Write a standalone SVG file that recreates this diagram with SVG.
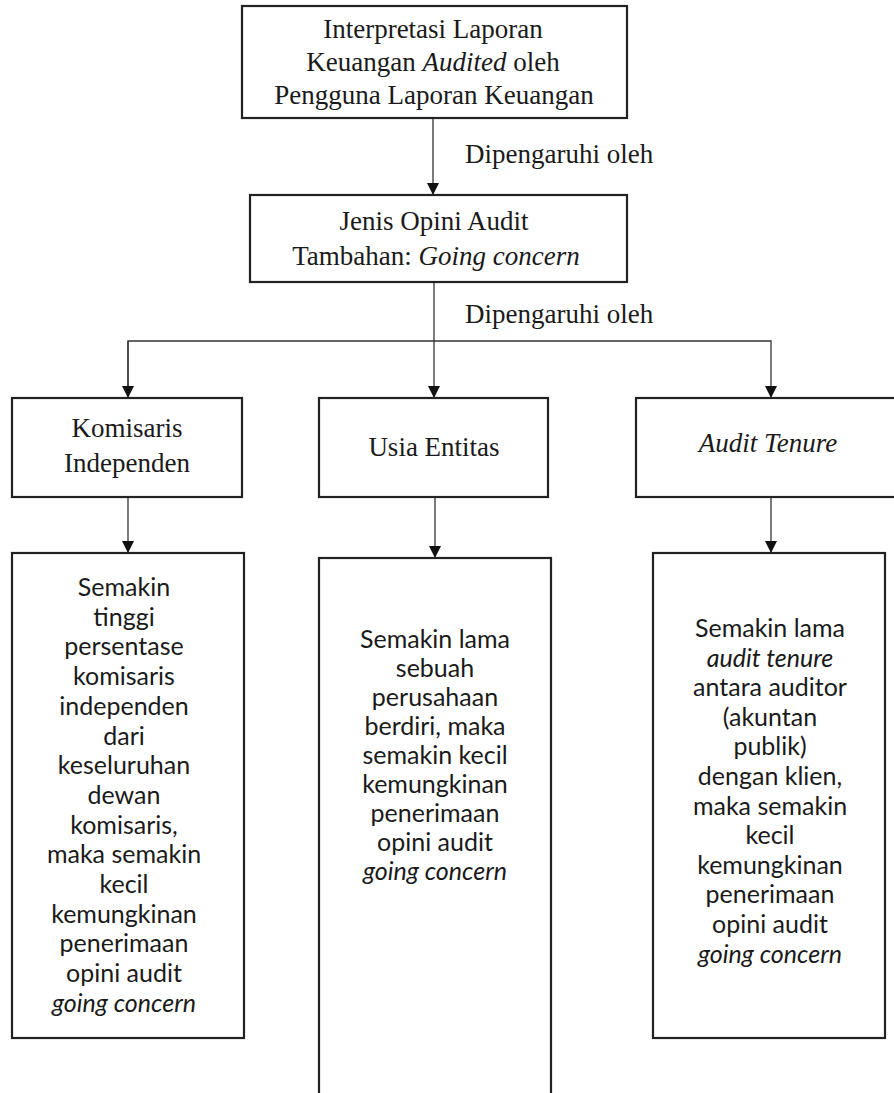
<svg xmlns="http://www.w3.org/2000/svg" width="894" height="1093" viewBox="0 0 894 1093">
<defs>
<style>
.box{fill:#fff;stroke:#222;stroke-width:2.2}
.con{fill:none;stroke:#333;stroke-width:1.3}
.t{font-family:"Liberation Serif","Times New Roman",serif;font-size:27px;fill:#1a1a1a;text-anchor:middle}
.lbl{font-family:"Liberation Serif","Times New Roman",serif;font-size:27px;fill:#1a1a1a}
.s{font-family:Lato,"Open Sans",sans-serif;font-size:25px;fill:#1a1a1a;text-anchor:middle}
.i{font-style:italic}
</style>
<marker id="ah" markerWidth="12" markerHeight="12" viewBox="0 0 12 12" refX="12" refY="6" orient="auto" markerUnits="userSpaceOnUse">
<path d="M0,0 L12,6 L0,12 Z" fill="#111"/>
</marker>
</defs>

<g id="connectors">
<line class="con" x1="433" y1="118" x2="433" y2="195" marker-end="url(#ah)"/>
<line class="con" x1="434" y1="282" x2="434" y2="398" marker-end="url(#ah)"/>
<polyline class="con" points="128,398 128,341 771,341 771,398" marker-end="url(#ah)"/>
<line class="con" x1="128" y1="341" x2="128" y2="398" marker-end="url(#ah)"/>
<line class="con" x1="128" y1="497" x2="128" y2="553" marker-end="url(#ah)"/>
<line class="con" x1="435" y1="497" x2="435" y2="558" marker-end="url(#ah)"/>
<line class="con" x1="771" y1="497" x2="771" y2="553" marker-end="url(#ah)"/>
<text class="lbl" x="465" y="163">Dipengaruhi oleh</text>
<text class="lbl" x="465" y="323">Dipengaruhi oleh</text>
</g>

<g id="node-interpretasi">
<rect class="box" x="242" y="6" width="385" height="112"/>
<text class="t" x="433" y="38">Interpretasi Laporan</text>
<text class="t" x="433" y="71">Keuangan <tspan class="i">Audited</tspan> oleh</text>
<text class="t" x="434" y="104">Pengguna Laporan Keuangan</text>
</g>

<g id="node-jenis-opini">
<rect class="box" x="250" y="195" width="377" height="87"/>
<text class="t" x="434" y="230">Jenis Opini Audit</text>
<text class="t" x="436" y="265">Tambahan: <tspan class="i">Going concern</tspan></text>
</g>

<g id="node-komisaris">
<rect class="box" x="12" y="398" width="230" height="99"/>
<text class="t" x="127" y="437">Komisaris</text>
<text class="t" x="127" y="472">Independen</text>
</g>

<g id="node-usia">
<rect class="box" x="319" y="398" width="229" height="99"/>
<text class="t" x="434" y="456">Usia Entitas</text>
</g>

<g id="node-tenure">
<rect class="box" x="636" y="398" width="262" height="99"/>
<text class="t i" x="768" y="452">Audit Tenure</text>
</g>

<g id="node-desc-komisaris">
<rect class="box" x="12" y="553" width="232" height="485"/>
<text class="s" x="124" y="596">Semakin</text>
<text class="s" x="124" y="625.7">tinggi</text>
<text class="s" x="124" y="655.4">persentase</text>
<text class="s" x="124" y="685.1">komisaris</text>
<text class="s" x="124" y="714.8">independen</text>
<text class="s" x="124" y="744.5">dari</text>
<text class="s" x="124" y="774.2">keseluruhan</text>
<text class="s" x="124" y="803.9">dewan</text>
<text class="s" x="124" y="833.6">komisaris,</text>
<text class="s" x="124" y="863.3">maka semakin</text>
<text class="s" x="124" y="893">kecil</text>
<text class="s" x="124" y="922.7">kemungkinan</text>
<text class="s" x="124" y="952.4">penerimaan</text>
<text class="s" x="124" y="982.1">opini audit</text>
<text class="s i" x="124" y="1011.8">going concern</text>
</g>

<g id="node-desc-usia">
<rect class="box" x="319" y="558" width="232" height="560"/>
<text class="s" x="435" y="648">Semakin lama</text>
<text class="s" x="435" y="677">sebuah</text>
<text class="s" x="435" y="706">perusahaan</text>
<text class="s" x="435" y="735">berdiri, maka</text>
<text class="s" x="435" y="764">semakin kecil</text>
<text class="s" x="435" y="793">kemungkinan</text>
<text class="s" x="435" y="822">penerimaan</text>
<text class="s" x="435" y="851">opini audit</text>
<text class="s i" x="435" y="880">going concern</text>
</g>

<g id="node-desc-tenure">
<rect class="box" x="653" y="553" width="232" height="485"/>
<text class="s" x="770" y="637">Semakin lama</text>
<text class="s i" x="770" y="666.6">audit tenure</text>
<text class="s" x="770" y="696.2">antara auditor</text>
<text class="s" x="770" y="725.8">(akuntan</text>
<text class="s" x="770" y="755.4">publik)</text>
<text class="s" x="770" y="785">dengan klien,</text>
<text class="s" x="770" y="814.6">maka semakin</text>
<text class="s" x="770" y="844.2">kecil</text>
<text class="s" x="770" y="873.8">kemungkinan</text>
<text class="s" x="770" y="903.4">penerimaan</text>
<text class="s" x="770" y="933">opini audit</text>
<text class="s i" x="770" y="962.6">going concern</text>
</g>
</svg>
